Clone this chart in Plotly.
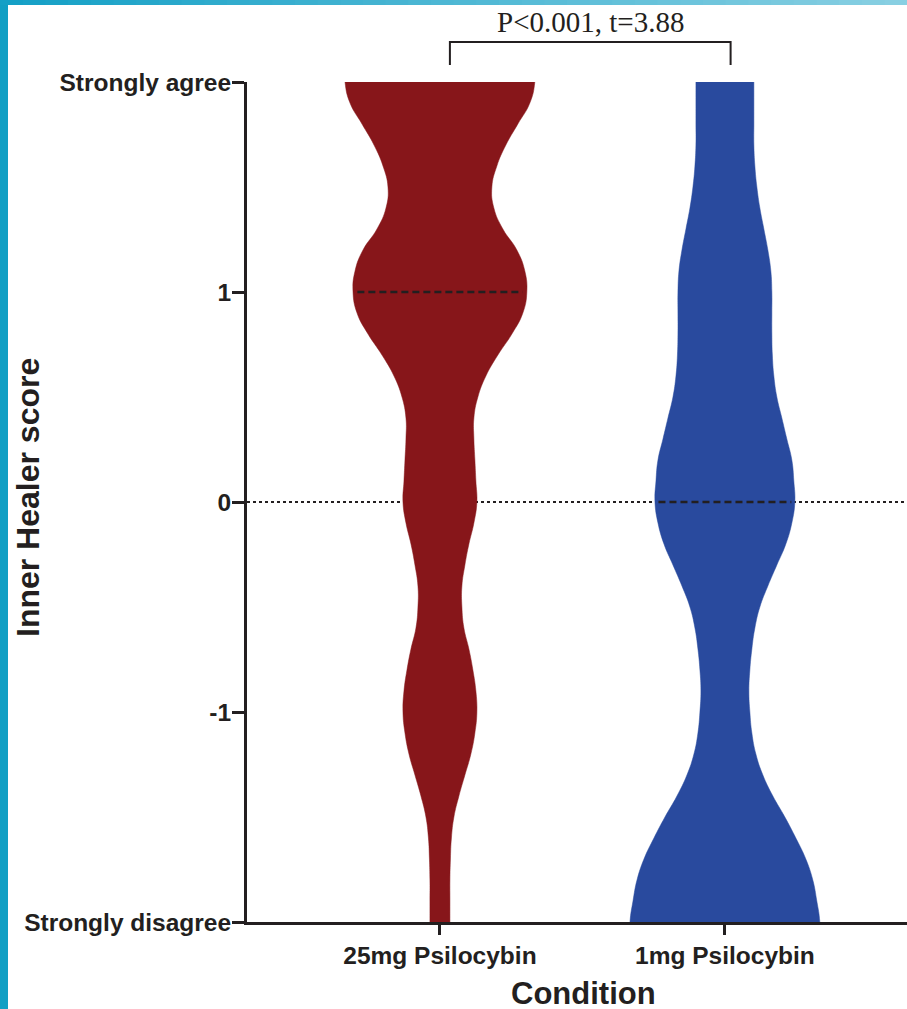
import plotly.graph_objects as go

# ---------------- data ----------------
categories = ["25mg Psilocybin", "1mg Psilocybin"]
medians = [1.0, 0.0]

# score grid (top to bottom) and estimated density profile (relative units)
scores = [2.0, 1.9, 1.8, 1.7, 1.6, 1.5, 1.4, 1.3, 1.2, 1.1, 1.0,
          0.9, 0.8, 0.7, 0.6, 0.5, 0.4, 0.3, 0.2, 0.1, 0.0,
          -0.1, -0.2, -0.3, -0.4, -0.5, -0.6, -0.7, -0.8, -0.9, -1.0,
          -1.1, -1.2, -1.3, -1.4, -1.5, -1.6, -1.7, -1.8, -1.9, -2.0]
red_density = [95, 90, 78, 66, 57, 52, 54, 63, 77, 85, 87,
               83, 72, 58, 46, 38, 34, 34, 35, 36, 37,
               34, 29, 25, 22, 22, 24, 29, 33, 36, 37,
               35, 31, 25, 19, 14, 11.5, 10.5, 10, 10, 10]
blue_density = [29, 29, 29, 29, 30, 32, 35, 39, 43, 46, 47,
                47, 47, 47.5, 49, 52, 57, 62, 67, 69, 70,
                67, 61, 52, 43, 35, 30, 27, 25, 24, 25,
                27, 31, 38, 48, 60, 71, 81, 88, 92, 95]

ytick_vals = [-2, -1, 0, 1, 2]
ytick_text = ["Strongly disagree", "-1", "0", "1", "Strongly agree"]
annotation_text = "P<0.001, t=3.88"

# ---------------- layout constants ----------------
W, H = 907, 1009
ML, MR, MT, MB = 247, 0, 82, 87
PW, PH = W - ML - MR, H - MT - MB
X_RANGE = [-0.677, 1.639]
HALF_MAX = 0.333  # max half-width of a violin in category units

RED = "#87161a"
BLUE = "#294a9e"
INK = "#231f20"


def px_x(px):
    return (px - ML) / PW


def px_y(py):
    return (H - MB - py) / PH


fig = go.Figure()

dmax = max(max(red_density), max(blue_density))
groups = [(red_density, RED), (blue_density, BLUE)]

for i, (dens, col) in enumerate(groups):
    # extend the outline a little past the axis range so it is cut flat by the plot edge
    sc = [scores[0] + 0.15] + scores + [scores[-1] - 0.15]
    dd = [dens[0]] + dens + [dens[-1]]
    right = [i + d / dmax * HALF_MAX for d in dd]
    left = [i - d / dmax * HALF_MAX for d in dd]
    xs = right + left[::-1]
    ys = sc + sc[::-1]
    fig.add_trace(go.Scatter(
        x=xs, y=ys, mode="lines", fill="toself", fillcolor=col,
        line=dict(color=col, width=0.5, shape="spline", smoothing=1.3),
        hoverinfo="skip", showlegend=False,
    ))

# median lines
for i, (dens, col) in enumerate(groups):
    m = medians[i]
    j = min(range(len(scores)), key=lambda k: abs(scores[k] - m))
    hw = dens[j] / dmax * HALF_MAX * 0.95
    fig.add_trace(go.Scatter(
        x=[i - hw, i + hw], y=[m, m], mode="lines",
        line=dict(color=INK, width=2.5, dash="7px,4px"),
        hoverinfo="skip", showlegend=False,
    ))

# dotted zero reference line
fig.add_shape(type="line", xref="paper", yref="y", x0=0, x1=1, y0=0, y1=0,
              line=dict(color=INK, width=2, dash="dot"), layer="below")

# significance bracket
bx0, bx1 = 0.035, 1.02
by_top, by_bot = px_y(42), px_y(65)
fig.add_shape(type="path", xref="x", yref="paper",
              path=f"M {bx0},{by_bot} L {bx0},{by_top} L {bx1},{by_top} L {bx1},{by_bot}",
              line=dict(color=INK, width=2))

fig.add_annotation(text=annotation_text, xref="paper", yref="paper",
                   x=px_x(590), y=px_y(22), showarrow=False,
                   xanchor="center", yanchor="middle",
                   font=dict(family="Liberation Serif", size=29, color=INK))

# axis titles as annotations
fig.add_annotation(text="Inner Healer score", xref="paper", yref="paper",
                   x=px_x(28), y=px_y(497), showarrow=False, textangle=-90,
                   xanchor="center", yanchor="middle",
                   font=dict(family="Liberation Sans", size=32, color=INK, weight="bold"))
fig.add_annotation(text="Condition", xref="paper", yref="paper",
                   x=px_x(583), y=px_y(994), showarrow=False,
                   xanchor="center", yanchor="middle",
                   font=dict(family="Liberation Sans", size=31, color=INK, weight="bold"))

# decorative border (left stripe and top gradient stripe)
fig.add_shape(type="rect", xref="paper", yref="paper",
              x0=px_x(0), x1=px_x(8), y0=px_y(H), y1=px_y(0),
              fillcolor="#119fc4", line=dict(width=0), layer="above")
n = 40
c0 = (0x14, 0xa0, 0xc6)
c1 = (0x88, 0xcf, 0xe2)
for k in range(n):
    t = k / (n - 1)
    c = tuple(int(round(a + (b - a) * t)) for a, b in zip(c0, c1))
    fig.add_shape(type="rect", xref="paper", yref="paper",
                  x0=px_x(W * k / n), x1=px_x(W * (k + 1) / n + 1),
                  y0=px_y(5), y1=px_y(0),
                  fillcolor="rgb(%d,%d,%d)" % c, line=dict(width=0), layer="above")

fig.update_layout(
    width=W, height=H,
    margin=dict(l=ML, r=MR, t=MT, b=MB),
    paper_bgcolor="white", plot_bgcolor="white",
    showlegend=False,
    xaxis=dict(
        range=X_RANGE, tickvals=[0, 1], ticktext=categories,
        showline=True, linewidth=3, linecolor=INK,
        ticks="outside", ticklen=10, tickwidth=3, tickcolor=INK,
        showgrid=False, zeroline=False,
        tickfont=dict(family="Liberation Sans", size=24.5, color=INK, weight="bold"),
    ),
    yaxis=dict(
        range=[-2, 2], tickvals=ytick_vals, ticktext=ytick_text,
        showline=True, linewidth=3, linecolor=INK,
        ticks="outside", ticklen=12, tickwidth=3, tickcolor=INK,
        ticklabelstandoff=-4,
        showgrid=False, zeroline=False,
        tickfont=dict(family="Liberation Sans", size=24.5, color=INK, weight="bold"),
    ),
)

fig.write_html("out.html")
